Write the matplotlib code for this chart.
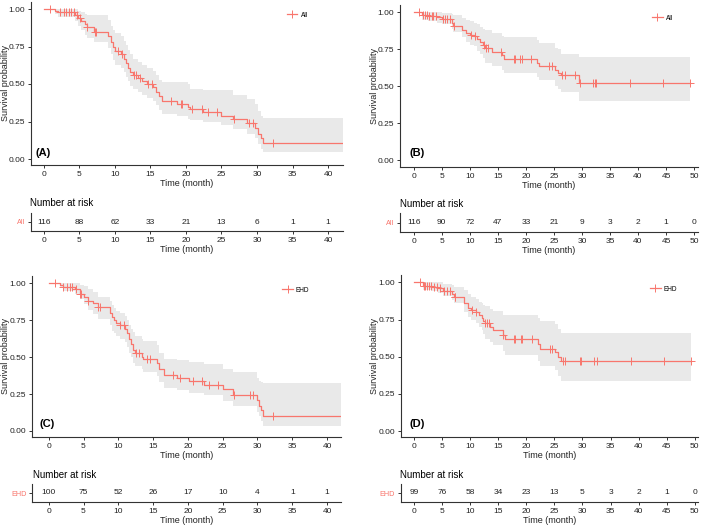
import numpy as np
import matplotlib
matplotlib.use("Agg")
import matplotlib.pyplot as plt
from matplotlib.lines import Line2D

plt.rcParams['font.family'] = ['Liberation Sans', 'DejaVu Sans']

CURVE = '#F8766D'
BAND = '#E9E9E9'
AXIS = '#333333'
TEXT = '#222222'
W, H = 709, 527

# ---- panel A : All, 0-40 months
a_time = [0, 1.6, 2.0, 4.4, 4.8, 5.3, 5.8, 6.1, 7.0, 9.1, 9.4, 9.7, 10.0, 10.9, 11.3, 11.6, 11.9, 12.2, 12.5,
          13.3, 13.8, 14.5, 15.3, 15.8, 16.2, 16.6, 18.8, 20.3, 20.6, 22.4, 25.0, 26.6, 28.6, 29.7, 30.2, 30.5, 30.8]
a_surv = [1.00, 0.99, 0.98, 0.96, 0.94, 0.92, 0.90, 0.88, 0.85, 0.82, 0.78, 0.75, 0.72, 0.70, 0.67, 0.64, 0.61, 0.58, 0.56,
          0.54, 0.52, 0.50, 0.48, 0.45, 0.42, 0.39, 0.37, 0.35, 0.335, 0.315, 0.29, 0.27, 0.24, 0.21, 0.17, 0.14, 0.105]
a_lower = [1.00, 0.97, 0.95, 0.92, 0.89, 0.86, 0.83, 0.81, 0.78, 0.74, 0.70, 0.66, 0.63, 0.61, 0.58, 0.55, 0.52, 0.49, 0.47,
           0.45, 0.43, 0.41, 0.39, 0.36, 0.33, 0.30, 0.29, 0.27, 0.26, 0.25, 0.23, 0.20, 0.17, 0.14, 0.10, 0.07, 0.045]
a_upper = [1.00, 1.00, 1.00, 1.00, 0.99, 0.98, 0.97, 0.96, 0.96, 0.93, 0.89, 0.86, 0.84, 0.82, 0.79, 0.76, 0.73, 0.70, 0.67,
           0.65, 0.63, 0.61, 0.59, 0.56, 0.53, 0.515, 0.515, 0.50, 0.47, 0.46, 0.46, 0.43, 0.40, 0.37, 0.32, 0.29, 0.275]
a_censor = [0.9, 2.3, 2.8, 3.1, 3.5, 3.8, 4.2, 4.7, 5.1, 6.1, 7.2, 7.4, 10.4, 11.0, 12.7, 13.0, 13.5, 14.6, 15.2,
            17.9, 19.3, 19.5, 20.9, 22.2, 23.1, 24.4, 26.8, 28.9, 29.4, 32.3]
a_end = 42.1
a_risk = [116, 88, 62, 33, 21, 13, 6, 1, 1]

# ---- panel B : All, 0-50 months
b_time = [0, 1.4, 2.5, 4.2, 5.0, 6.8, 7.1, 8.6, 9.3, 10.0, 10.8, 11.3, 11.9, 12.3, 12.7, 13.9, 15.7, 16.1,
          22.0, 22.3, 25.2, 25.8, 26.2, 29.5]
b_surv = [1.00, 0.982, 0.975, 0.965, 0.955, 0.93, 0.91, 0.88, 0.86, 0.85, 0.84, 0.82, 0.80, 0.78, 0.76, 0.735, 0.71, 0.685,
          0.66, 0.637, 0.61, 0.59, 0.575, 0.525]
b_lower = [1.00, 0.95, 0.94, 0.93, 0.92, 0.89, 0.87, 0.83, 0.80, 0.78, 0.77, 0.74, 0.72, 0.69, 0.66, 0.64, 0.61, 0.59,
           0.56, 0.54, 0.50, 0.48, 0.46, 0.40]
b_upper = [1.00, 1.00, 1.00, 1.00, 0.995, 0.99, 0.98, 0.96, 0.95, 0.94, 0.93, 0.92, 0.90, 0.89, 0.88, 0.86, 0.84, 0.835,
           0.81, 0.79, 0.76, 0.75, 0.72, 0.70]
b_censor = [1.0, 1.7, 2.0, 2.3, 2.8, 3.2, 3.5, 4.0, 5.2, 5.6, 6.0, 6.4, 7.2, 10.3, 11.0, 12.5, 12.9, 13.3, 15.5,
            17.8, 18.0, 19.0, 19.3, 21.0, 24.2, 24.6, 26.5, 27.0, 28.7, 29.6, 32.0, 32.3, 32.6, 38.6, 44.5, 49.3]
b_end = 49.3
b_risk = [116, 90, 72, 47, 33, 21, 9, 3, 2, 1, 0]

# ---- panel C : EHD, 0-40 months
c_time = [0, 1.6, 2.0, 3.8, 4.5, 5.0, 5.6, 6.4, 7.1, 8.8, 9.1, 9.4, 9.7, 10.2, 10.95, 11.2, 11.5, 11.8, 12.1, 12.4,
          13.4, 13.6, 15.5, 15.9, 16.5, 18.4, 20.1, 22.3, 25.1, 26.5, 29.9, 30.2, 30.5, 30.8]
c_surv = [1.00, 0.99, 0.975, 0.96, 0.93, 0.91, 0.88, 0.865, 0.837, 0.80, 0.77, 0.75, 0.73, 0.715, 0.69, 0.66, 0.62, 0.59, 0.55, 0.526,
          0.50, 0.485, 0.458, 0.42, 0.38, 0.36, 0.34, 0.31, 0.284, 0.244, 0.21, 0.17, 0.14, 0.10]
c_lower = [1.00, 0.97, 0.95, 0.93, 0.89, 0.86, 0.82, 0.79, 0.76, 0.72, 0.68, 0.66, 0.64, 0.62, 0.60, 0.57, 0.53, 0.50, 0.46, 0.44,
           0.42, 0.40, 0.37, 0.33, 0.29, 0.28, 0.255, 0.24, 0.20, 0.17, 0.13, 0.10, 0.07, 0.035]
c_upper = [1.00, 1.00, 1.00, 1.00, 0.99, 0.98, 0.96, 0.94, 0.91, 0.88, 0.85, 0.83, 0.81, 0.80, 0.78, 0.75, 0.72, 0.69, 0.67, 0.64,
           0.62, 0.61, 0.58, 0.53, 0.49, 0.48, 0.47, 0.45, 0.42, 0.40, 0.36, 0.34, 0.33, 0.323]
c_censor = [0.9, 2.1, 2.6, 3.1, 3.4, 3.9, 4.5, 4.7, 5.7, 7.1, 7.3, 10.2, 10.8, 12.6, 13.0, 14.1, 14.6,
            17.9, 18.9, 20.8, 22.0, 23.0, 24.3, 26.6, 28.9, 29.4, 32.3]
c_end = 42.0
c_risk = [100, 75, 52, 26, 17, 10, 4, 1, 1]

# ---- panel D : EHD, 0-50 months
d_time = [0, 1.6, 3.1, 4.3, 5.2, 6.7, 7.1, 8.9, 9.6, 10.2, 11.0, 11.6, 12.0, 12.3, 12.6, 13.5, 14.1, 15.8, 16.2,
          22.1, 22.4, 25.1, 25.7, 26.1]
d_surv = [1.00, 0.978, 0.97, 0.96, 0.944, 0.92, 0.904, 0.86, 0.83, 0.814, 0.80, 0.78, 0.76, 0.74, 0.724, 0.70, 0.679, 0.646, 0.617,
          0.585, 0.552, 0.53, 0.50, 0.473]
d_lower = [1.00, 0.95, 0.94, 0.93, 0.91, 0.88, 0.86, 0.80, 0.77, 0.75, 0.73, 0.70, 0.68, 0.65, 0.62, 0.60, 0.58, 0.54, 0.51,
           0.47, 0.44, 0.41, 0.37, 0.338]
d_upper = [1.00, 1.00, 1.00, 1.00, 0.99, 0.98, 0.97, 0.95, 0.92, 0.90, 0.89, 0.87, 0.86, 0.85, 0.84, 0.82, 0.81, 0.78, 0.78,
           0.76, 0.74, 0.72, 0.69, 0.66]
d_censor = [1.0, 1.8, 2.0, 2.3, 2.7, 3.0, 3.5, 4.0, 4.6, 5.3, 5.8, 6.3, 7.2, 7.3, 10.3, 11.0, 12.6, 12.9, 13.3, 15.8,
            17.8, 18.0, 19.0, 19.2, 21.0, 24.2, 24.6, 26.5, 26.9, 29.5, 29.8, 32.0, 32.5, 38.6, 44.5, 49.3]
d_end = 49.3
d_risk = [99, 76, 58, 34, 23, 13, 5, 3, 2, 1, 0]

y_ticks = [0, 0.25, 0.5, 0.75, 1.0]
y_labels = ['0.00', '0.25', '0.50', '0.75', '1.00']


def px_axes(fig, l, t, r, b):
    # place an axes from pixel edges (left, top, right, bottom)
    return fig.add_axes([l / W, 1 - b / H, (r - l) / W, (b - t) / H])


def style_axis(ax):
    for s in ['top', 'right']:
        ax.spines[s].set_visible(False)
    for s in ['left', 'bottom']:
        ax.spines[s].set_color(AXIS)
        ax.spines[s].set_linewidth(0.8)
    ax.tick_params(color=AXIS, length=2.5, width=0.7, labelsize=6, pad=1.5, labelcolor=TEXT)


def km_panel(ax, time, surv, lower, upper, censor, end, xlim, ylim, xticks, letter, letter_pos, group, leg_pos, ylab_x):
    time = np.array(time)
    surv = np.array(surv)
    t = np.append(time, end)
    s = np.append(surv, surv[-1])
    lo = np.append(lower, lower[-1])
    up = np.append(upper, upper[-1])

    ax.fill_between(t, lo, up, step='post', color=BAND, lw=0)
    ax.step(t, s, where='post', color=CURVE, lw=0.9)

    # censored observations sit on the curve
    idx = np.searchsorted(time, censor, side='right') - 1
    ax.plot(censor, surv[idx], '+', color=CURVE, ms=5.5, mew=0.7, ls='none')

    ax.set_xlim(xlim)
    ax.set_ylim(ylim)
    ax.set_xticks(xticks)
    ax.set_yticks(y_ticks)
    ax.set_yticklabels(y_labels)
    style_axis(ax)
    ax.set_xlabel('Time (month)', fontsize=6.5, labelpad=1, color=TEXT)
    ax.set_ylabel('Survival probability', fontsize=6.5, color=TEXT)
    ax.yaxis.set_label_coords(ylab_x, 0.5)

    ax.text(letter_pos[0], letter_pos[1], letter, transform=ax.transAxes,
            fontsize=8, fontweight='bold', ha='left', va='center', color='black')

    handle = Line2D([], [], color=CURVE, lw=0.9, marker='+', ms=5.5, mew=0.7)
    ax.legend([handle], [group], loc='center left', bbox_to_anchor=leg_pos, frameon=False,
              fontsize=4.7, handlelength=1.6, handletextpad=0.5, borderpad=0, borderaxespad=0)


def risk_table(fig, ax, risk, xlim, xticks, group, title_px):
    ax.set_xlim(xlim)
    ax.set_ylim(0, 1)
    ax.set_xticks(xticks)
    ax.set_yticks([0.5])
    ax.set_yticklabels([group])
    style_axis(ax)
    ax.get_yticklabels()[0].set_color(CURVE)
    ax.tick_params(axis='y', labelsize=5.2)
    for x, n in zip(xticks, risk):
        ax.text(x, 0.5, str(n), ha='center', va='center', fontsize=6, color=TEXT)
    ax.set_xlabel('Time (month)', fontsize=6.5, labelpad=1, color=TEXT)
    fig.text(title_px[0] / W, 1 - title_px[1] / H, 'Number at risk',
             fontsize=7, ha='left', va='center', color='black')


fig = plt.figure(figsize=(W / 100, H / 100), dpi=100)

ticks_40 = list(range(0, 45, 5))
ticks_50 = list(range(0, 55, 5))

# A
ax = px_axes(fig, 31, 1.5, 343, 165)
km_panel(ax, a_time, a_surv, a_lower, a_upper, a_censor, a_end, (-1.8, 42.1), (-0.04, 1.05),
         ticks_40, '(A)', (0.013, 0.072), 'All', (0.82, 0.917), -0.068)
ax = px_axes(fig, 31, 213, 343, 231)
risk_table(fig, ax, a_risk, (-1.8, 42.1), ticks_40, 'All', (30, 203))

# B
ax = px_axes(fig, 400, 4.9, 698, 167)
km_panel(ax, b_time, b_surv, b_lower, b_upper, b_censor, b_end, (-2.44, 50.7), (-0.045, 1.05),
         ticks_50, '(B)', (0.031, 0.085), 'All', (0.846, 0.919), -0.072)
ax = px_axes(fig, 400, 213, 698, 232)
risk_table(fig, ax, b_risk, (-2.44, 50.7), ticks_50, 'All', (400, 204))

# C
ax = px_axes(fig, 32, 276, 341, 437)
km_panel(ax, c_time, c_surv, c_lower, c_upper, c_censor, c_end, (-2.4, 42.0), (-0.041, 1.049),
         ticks_40, '(C)', (0.024, 0.081), 'EHD', (0.81, 0.913), -0.072)
ax = px_axes(fig, 32, 484, 341, 502)
risk_table(fig, ax, c_risk, (-2.4, 42.0), ticks_40, 'EHD', (33, 475))

# D
ax = px_axes(fig, 400.7, 275, 698, 437)
km_panel(ax, d_time, d_surv, d_lower, d_upper, d_censor, d_end, (-2.42, 50.6), (-0.04, 1.05),
         ticks_50, '(D)', (0.029, 0.081), 'EHD', (0.839, 0.913), -0.074)
ax = px_axes(fig, 400.7, 484, 698, 502)
risk_table(fig, ax, d_risk, (-2.42, 50.6), ticks_50, 'EHD', (400, 475))

fig.savefig('out.png', dpi=100)
